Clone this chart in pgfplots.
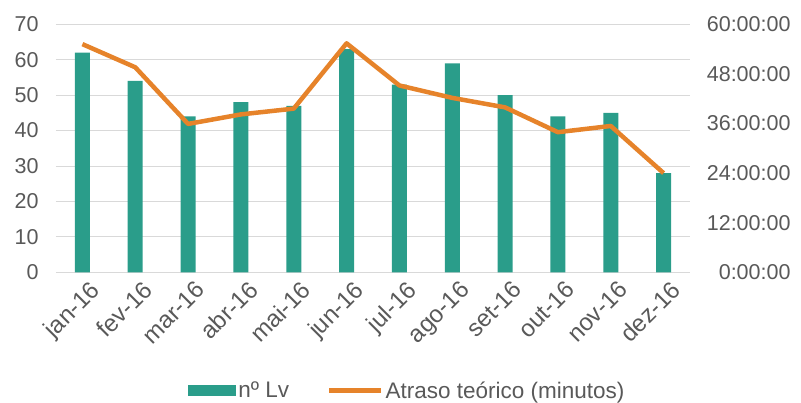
\documentclass[border=0pt]{standalone}
\usepackage{fontspec}
\setmainfont{Liberation Sans}
\usepackage{pgfplots}
\pgfplotsset{compat=1.18}
\definecolor{barc}{HTML}{2A9D8A}
\definecolor{linec}{HTML}{E6832A}
\definecolor{txt}{HTML}{595959}
\definecolor{gridc}{HTML}{D9D9D9}
\pgfplotsset{
  barleg/.style={legend image code/.code={\fill[barc] (0pt,-5.5pt) rectangle (48pt,5.5pt);}},
  lineleg/.style={legend image code/.code={\draw[linec, line width=4.5pt] (0pt,0pt) -- (52pt,0pt);}},
}
\begin{document}
\begin{tikzpicture}
\pgfplotsset{every axis/.append style={scale only axis, width=634pt, height=248pt,
  xmin=-0.5, xmax=11.5,
  tick label style={font=\fontsize{21.5}{25}\selectfont, text=txt},
  /pgf/number format/assume math mode=true}}
\begin{axis}[name=ax, ymin=0, ymax=70, ytick={0,10,...,70},
  axis x line*=bottom, axis y line*=left,
  y axis line style={draw=none},
  x axis line style={draw=gridc, line width=1pt, -},
  ymajorgrids, grid style={gridc, line width=1pt},
  xtick={0,...,11},
  xticklabels={jan-16,fev-16,mar-16,abr-16,mai-16,jun-16,jul-16,ago-16,set-16,out-16,nov-16,dez-16},
  xticklabel style={rotate=45, anchor=north east, xshift=3pt, yshift=-6pt, font=\fontsize{24}{28}\selectfont},
  yticklabel style={xshift=-14pt},
  minor xtick={-0.5,0.5,...,11.5},
  tick align=outside, major tick length=0pt, minor tick length=6pt,
  minor x tick style={gridc, line width=1pt},
  ytick style={draw=none}, xtick style={draw=none},
  legend style={at={(0.5544,-0.4766)}, anchor=center, draw=none, fill=none,
    font=\fontsize{22.5}{26}\selectfont, text=txt, legend columns=2,
    /tikz/every even column/.append style={column sep=36pt}},
  legend cell align=left,
]
\addplot[ybar, bar width=15pt, fill=barc, draw=none, barleg]
  coordinates {(0,62) (1,54) (2,44) (3,48) (4,47) (5,63) (6,53) (7,59) (8,50) (9,44) (10,45) (11,28)};
\addlegendentry{nº Lv}
\addlegendimage{lineleg}
\addlegendentry{Atraso teórico (minutos)}
\end{axis}
\begin{axis}[ymin=0, ymax=60, ytick={0,12,...,60},
  yticklabels={0:00:00,12:00:00,24:00:00,36:00:00,48:00:00,60:00:00},
  axis y line*=right, axis x line=none,
  y axis line style={draw=none}, ytick style={draw=none},
  yticklabel style={anchor=west, text width=86pt, align=right, xshift=11pt},
]
\addplot[linec, line width=4.5pt, line join=round]
  coordinates {(0,55.2) (1,49.6) (2,35.9) (3,38.2) (4,39.6) (5,55.4) (6,45.2) (7,42.2) (8,39.9) (9,33.9) (10,35.4) (11,24.0)};
\end{axis}
\pgfresetboundingbox
\path[use as bounding box] ([xshift=-56pt,yshift=-129.7pt]ax.south west) rectangle ++(801pt,402pt);
\end{tikzpicture}
\end{document}
